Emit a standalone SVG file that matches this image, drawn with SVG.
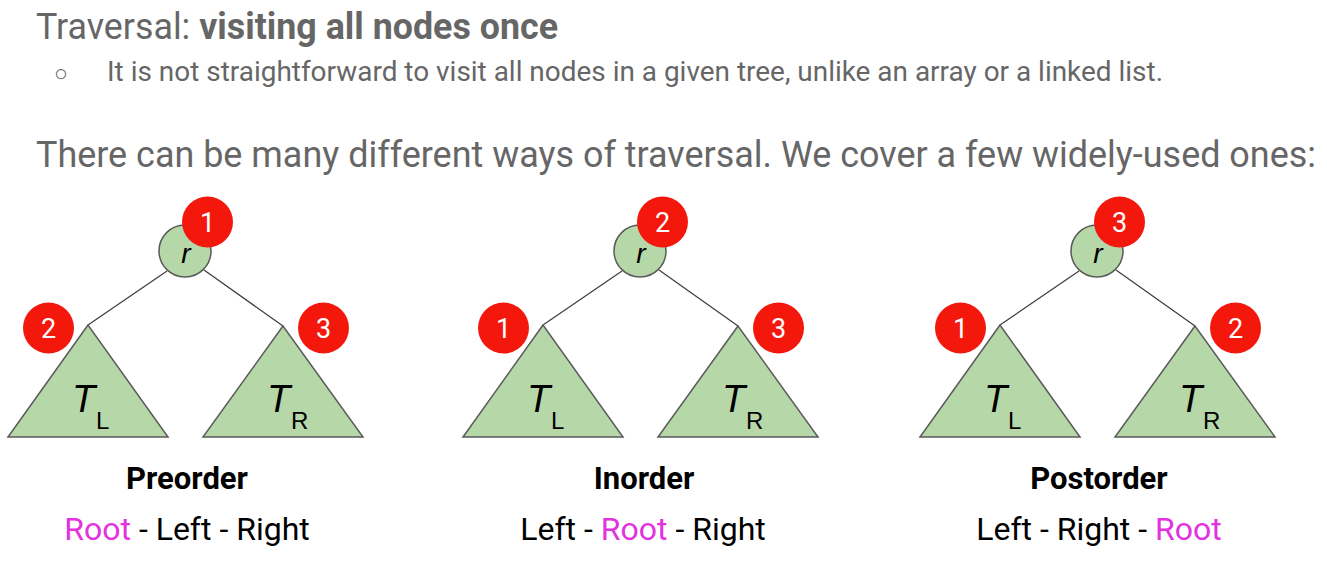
<svg xmlns="http://www.w3.org/2000/svg" width="1327" height="563" viewBox="0 0 1327 563">
<style>
.head{font-family:Roboto,"Liberation Sans",sans-serif;fill:#666666}
.sub{fill:#b6d7a8;stroke:#5a5a5a;stroke-width:1.5}
.edge{stroke:#404040;stroke-width:1.3;fill:none}
.badge{fill:#f3180b}
.bt{font-family:Roboto,"Liberation Sans",sans-serif;font-size:27px;fill:#ffffff;text-anchor:middle}
.tt{font-family:"Liberation Sans",Arial,sans-serif;fill:#000}
.rr{font-family:"Liberation Sans",Arial,sans-serif;font-style:italic;font-size:28px;fill:#000;text-anchor:middle}
.lab{font-family:Roboto,"Liberation Sans",sans-serif;font-weight:bold;font-size:31px;fill:#000;text-anchor:middle}
.ord{font-family:Roboto,"Liberation Sans",sans-serif;font-size:32px;fill:#000;text-anchor:middle}
.mag{fill:#e332e0}
</style>
<rect width="1327" height="563" fill="#ffffff"/>
<g id="title">
<text class="head" x="36" y="39" font-size="36" textLength="522" lengthAdjust="spacingAndGlyphs">Traversal: <tspan font-weight="bold">visiting all nodes once</tspan></text>
<text class="head" x="54" y="81" font-size="23">○</text>
<text class="head" x="107" y="81" font-size="27" textLength="1056" lengthAdjust="spacingAndGlyphs">It is not straightforward to visit all nodes in a given tree, unlike an array or a linked list.</text>
<text class="head" x="36" y="167" font-size="36" textLength="1280" lengthAdjust="spacingAndGlyphs">There can be many different ways of traversal. We cover a few widely-used ones:</text>
</g>
<g id="connectors">
<line class="edge" x1="167" y1="271" x2="88" y2="325"/>
<line class="edge" x1="204" y1="270" x2="283" y2="326"/>
<line class="edge" x1="622" y1="271" x2="543" y2="325"/>
<line class="edge" x1="659" y1="270" x2="738" y2="326"/>
<line class="edge" x1="1079" y1="271" x2="1000" y2="325"/>
<line class="edge" x1="1116" y1="270" x2="1195" y2="326"/>
</g>
<g id="preorder">
<g id="pre-root"><circle class="sub" cx="185" cy="251" r="26"/><text class="rr" x="186" y="263">r</text></g>
<g id="pre-tl"><polygon class="sub" points="88,325 8,437 168,437"/><text class="tt" x="72" y="412" font-size="38" font-style="italic">T</text><text class="tt" x="96" y="429" font-size="24">L</text></g>
<g id="pre-tr"><polygon class="sub" points="283,326 203,437 363,437"/><text class="tt" x="267" y="412" font-size="38" font-style="italic">T</text><text class="tt" x="291" y="429" font-size="24">R</text></g>
<g id="pre-b1"><circle class="badge" cx="207.5" cy="222" r="25.5"/><text class="bt" x="207.5" y="231.5">1</text></g>
<g id="pre-b2"><circle class="badge" cx="48.5" cy="328" r="25.5"/><text class="bt" x="48.5" y="337.5">2</text></g>
<g id="pre-b3"><circle class="badge" cx="323.5" cy="328" r="25.5"/><text class="bt" x="323.5" y="337.5">3</text></g>
<text class="lab" x="187" y="489">Preorder</text>
<text class="ord" x="187" y="540"><tspan class="mag">Root</tspan> - Left - Right</text>
</g>
<g id="inorder">
<g id="in-root"><circle class="sub" cx="640" cy="251" r="26"/><text class="rr" x="641" y="263">r</text></g>
<g id="in-tl"><polygon class="sub" points="543,325 463,437 623,437"/><text class="tt" x="527" y="412" font-size="38" font-style="italic">T</text><text class="tt" x="551" y="429" font-size="24">L</text></g>
<g id="in-tr"><polygon class="sub" points="738,326 658,437 818,437"/><text class="tt" x="722" y="412" font-size="38" font-style="italic">T</text><text class="tt" x="746" y="429" font-size="24">R</text></g>
<g id="in-b2"><circle class="badge" cx="662.5" cy="222" r="25.5"/><text class="bt" x="662.5" y="231.5">2</text></g>
<g id="in-b1"><circle class="badge" cx="503.5" cy="328" r="25.5"/><text class="bt" x="503.5" y="337.5">1</text></g>
<g id="in-b3"><circle class="badge" cx="778.5" cy="328" r="25.5"/><text class="bt" x="778.5" y="337.5">3</text></g>
<text class="lab" x="644" y="489">Inorder</text>
<text class="ord" x="643" y="540">Left - <tspan class="mag">Root</tspan> - Right</text>
</g>
<g id="postorder">
<g id="post-root"><circle class="sub" cx="1097" cy="251" r="26"/><text class="rr" x="1098" y="263">r</text></g>
<g id="post-tl"><polygon class="sub" points="1000,325 920,437 1080,437"/><text class="tt" x="984" y="412" font-size="38" font-style="italic">T</text><text class="tt" x="1008" y="429" font-size="24">L</text></g>
<g id="post-tr"><polygon class="sub" points="1195,326 1115,437 1275,437"/><text class="tt" x="1179" y="412" font-size="38" font-style="italic">T</text><text class="tt" x="1203" y="429" font-size="24">R</text></g>
<g id="post-b3"><circle class="badge" cx="1119.5" cy="222" r="25.5"/><text class="bt" x="1119.5" y="231.5">3</text></g>
<g id="post-b1"><circle class="badge" cx="960.5" cy="328" r="25.5"/><text class="bt" x="960.5" y="337.5">1</text></g>
<g id="post-b2"><circle class="badge" cx="1235.5" cy="328" r="25.5"/><text class="bt" x="1235.5" y="337.5">2</text></g>
<text class="lab" x="1099" y="489">Postorder</text>
<text class="ord" x="1099" y="540">Left - Right - <tspan class="mag">Root</tspan></text>
</g>
</svg>
